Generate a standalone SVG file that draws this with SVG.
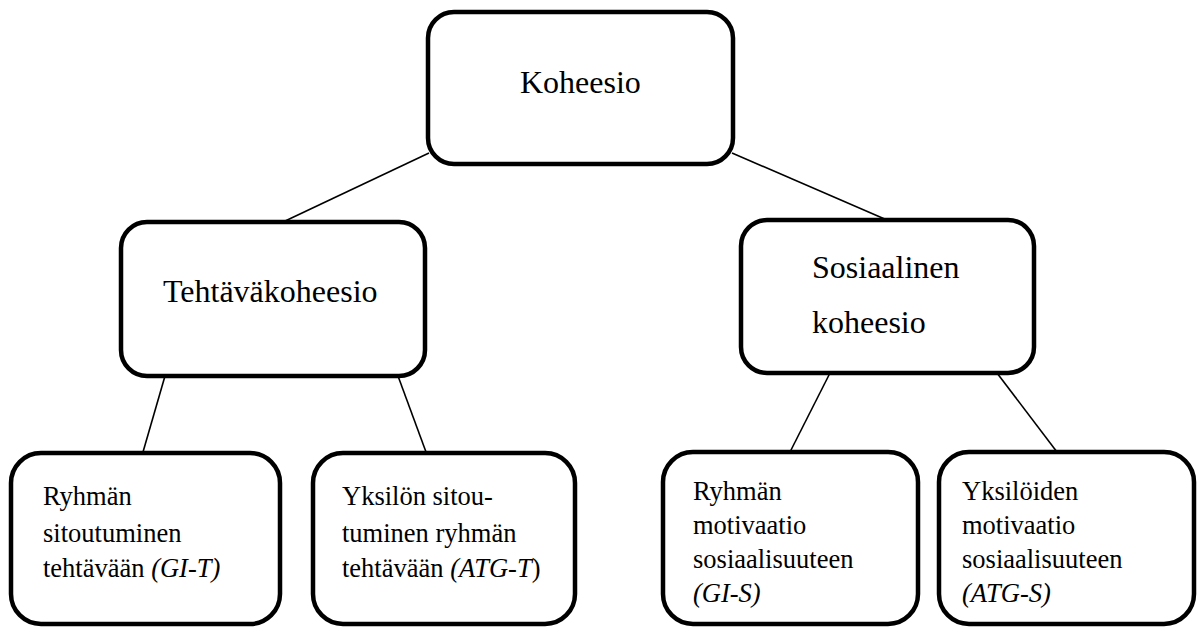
<svg xmlns="http://www.w3.org/2000/svg" width="1198" height="627" viewBox="0 0 1198 627">
<style>
.box{fill:#fff;stroke:#000;stroke-width:4.5}
.big{font-size:32px;fill:#000}
.small{font-size:26.5px;fill:#000}
.it{font-style:italic}
.conn line{stroke:#000;stroke-width:1.6}
</style>
<rect width="1198" height="627" fill="#fff"/>
<g id="connectors" class="conn">
<line x1="429" y1="153" x2="283" y2="222"/>
<line x1="732" y1="153" x2="887" y2="220"/>
<line x1="165" y1="376" x2="143" y2="452"/>
<line x1="398" y1="376" x2="426" y2="452"/>
<line x1="830" y1="373" x2="790" y2="452"/>
<line x1="997" y1="373" x2="1057" y2="452"/>
</g>
<g font-family="Liberation Serif, Tinos, DejaVu Serif, serif">
<g id="koheesio">
<rect class="box" x="428" y="12" width="305" height="152" rx="26"/>
<text class="big" x="520" y="93">Koheesio</text>
</g>
<g id="tehtavakoheesio">
<rect class="box" x="121" y="222" width="304" height="154" rx="26"/>
<text class="big" x="163" y="302">Tehtäväkoheesio</text>
</g>
<g id="sosiaalinen">
<rect class="box" x="741" y="220" width="293" height="153" rx="26"/>
<text class="big" x="812" y="278">Sosiaalinen</text>
<text class="big" x="812" y="333">koheesio</text>
</g>
<g id="gi-t">
<rect class="box" x="11" y="453" width="269" height="171" rx="30"/>
<text class="small" x="43" y="505">Ryhmän</text>
<text class="small" x="43" y="542">sitoutuminen</text>
<text class="small" x="43" y="577">tehtävään <tspan class="it">(GI-T)</tspan></text>
</g>
<g id="atg-t">
<rect class="box" x="313" y="453" width="262" height="171" rx="30"/>
<text class="small" x="342" y="505">Yksilön sitou-</text>
<text class="small" x="342" y="542">tuminen ryhmän</text>
<text class="small" x="342" y="577">tehtävään <tspan class="it">(ATG-T</tspan>)</text>
</g>
<g id="gi-s">
<rect class="box" x="663" y="452" width="255" height="172" rx="30"/>
<text class="small" x="693" y="500">Ryhmän</text>
<text class="small" x="693" y="534">motivaatio</text>
<text class="small" x="693" y="568">sosiaalisuuteen</text>
<text class="small it" x="693" y="602">(GI-S)</text>
</g>
<g id="atg-s">
<rect class="box" x="939" y="452" width="255" height="172" rx="30"/>
<text class="small" x="962" y="500">Yksilöiden</text>
<text class="small" x="962" y="534">motivaatio</text>
<text class="small" x="962" y="568">sosiaalisuuteen</text>
<text class="small it" x="962" y="602">(ATG-S)</text>
</g>
</g>
</svg>
